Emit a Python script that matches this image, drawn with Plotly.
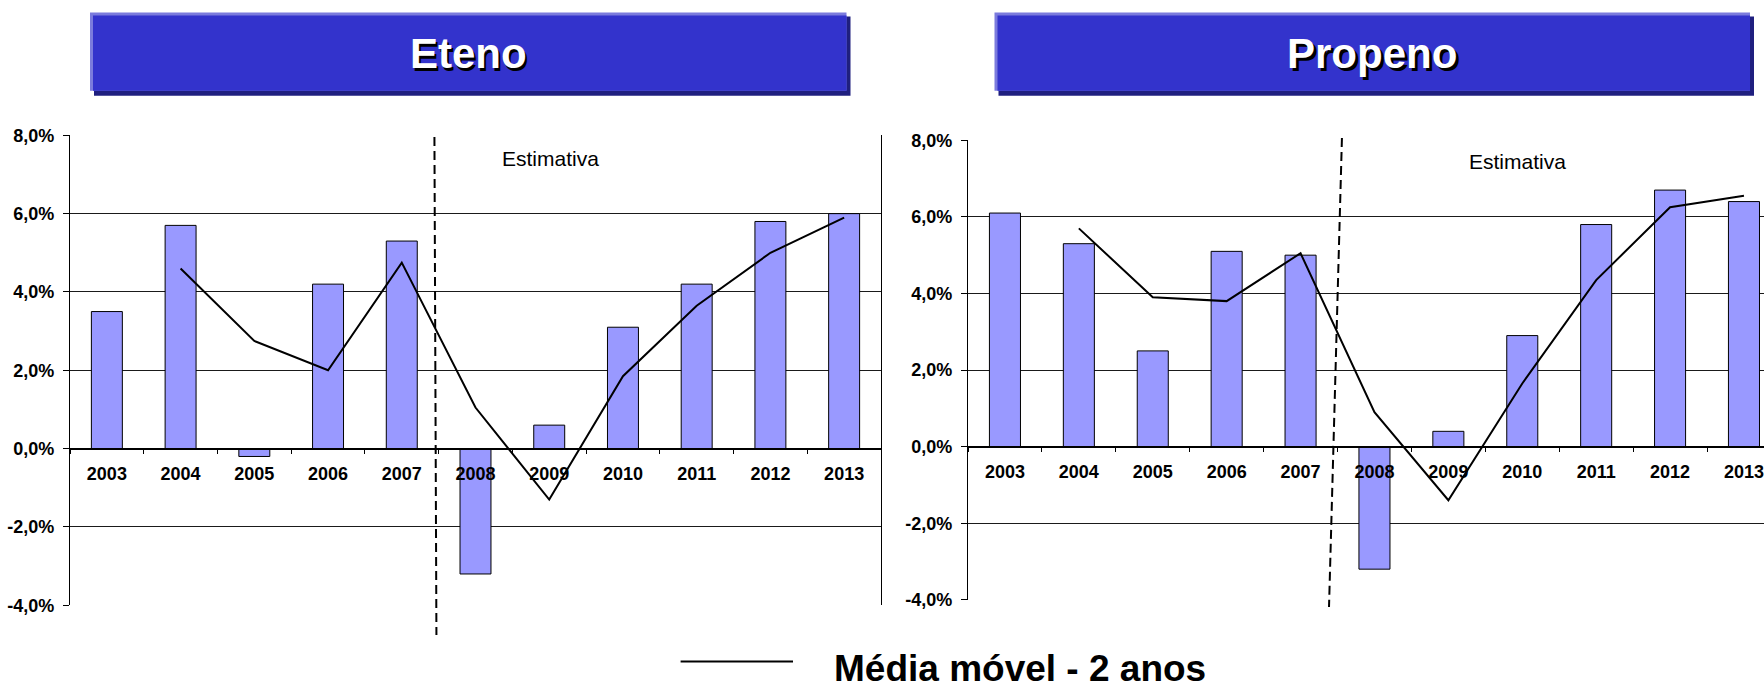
import plotly.graph_objects as go

# ---------------- data ----------------
years = ["2003", "2004", "2005", "2006", "2007", "2008", "2009", "2010", "2011", "2012", "2013"]
eteno_growth = [3.5, 5.7, -0.2, 4.2, 5.3, -3.2, 0.6, 3.1, 4.2, 5.8, 6.0]
eteno_ma2 = [None, 4.6, 2.75, 2.0, 4.75, 1.05, -1.3, 1.85, 3.65, 5.0, 5.9]
propeno_growth = [6.1, 5.3, 2.5, 5.1, 5.0, -3.2, 0.4, 2.9, 5.8, 6.7, 6.4]
propeno_ma2 = [None, 5.7, 3.9, 3.8, 5.05, 0.9, -1.4, 1.65, 4.35, 6.25, 6.55]
y_tickvals = [-4, -2, 0, 2, 4, 6, 8]
y_ticktext = ["-4,0%", "-2,0%", "0,0%", "2,0%", "4,0%", "6,0%", "8,0%"]
titles = ["Eteno", "Propeno"]
estimate_label = "Estimativa"
legend_label = "Média móvel - 2 anos"

# ---------------- style ----------------
W, H = 1764, 686
FONT = "Arial, Liberation Sans, sans-serif"
BAR = "#9999FF"
YMIN, YMAX = -4, 8


def px(x):
    return x / W


def py(y):
    return 1 - y / H


panels = [
    dict(dom_x=[px(70), px(881)], dom_y=[py(605.3), py(135.3)], xr=[-0.5, 10.5],
         mirror=True, growth=eteno_growth, ma=eteno_ma2,
         dash=((4.443, py(137)), (4.47, py(635))), est=(6.02, 7.4),
         box=(90, 12.5, 846.5, 90.7)),
    dict(dom_x=[px(968), 1.0], dom_y=[py(599.8), py(140.3)], xr=[-0.5, 10.271],
         mirror=False, growth=propeno_growth, ma=propeno_ma2,
         dash=((4.56, py(138)), (4.385, py(607))), est=(6.94, 7.45),
         box=(994.5, 12.5, 1750, 90.7)),
]

fig = go.Figure()
shapes = []
annotations = []

for i, p in enumerate(panels):
    n = "" if i == 0 else str(i + 1)
    xa, ya = "x" + n, "y" + n
    fig.add_trace(go.Bar(x=years, y=p["growth"], xaxis=xa, yaxis=ya,
                         marker=dict(color=BAR, line=dict(color="#000000", width=1)),
                         width=0.42, showlegend=False))
    fig.add_trace(go.Scatter(x=years, y=p["ma"], xaxis=xa, yaxis=ya, mode="lines",
                             line=dict(color="#000000", width=2), connectgaps=False,
                             showlegend=False))
    d0, d1 = p["dom_y"]
    zero_pos = d0 + (0 - YMIN) / (YMAX - YMIN) * (d1 - d0)
    fig.update_layout(**{
        "xaxis" + n: dict(domain=p["dom_x"], type="category", range=p["xr"],
                          anchor="free", position=zero_pos, showline=True,
                          linecolor="#000000", linewidth=1.5, ticks="outside",
                          tickson="boundaries", ticklen=5, tickcolor="#000000",
                          tickfont=dict(family=FONT, size=18, color="#000000", weight="bold"),
                          ticklabelstandoff=9, showgrid=False, zeroline=False,
                          fixedrange=True, automargin=False),
        "yaxis" + n: dict(domain=p["dom_y"], range=[YMIN, YMAX], anchor=xa,
                          tickvals=y_tickvals, ticktext=y_ticktext, showline=True,
                          mirror=p["mirror"], linecolor="#000000", linewidth=1.2,
                          ticks="outside", ticklen=6, tickcolor="#000000",
                          tickfont=dict(family=FONT, size=18, color="#000000", weight="bold"),
                          ticklabelstandoff=5, showgrid=True, gridcolor="#1a1a1a",
                          gridwidth=1, zeroline=False, fixedrange=True, automargin=False),
    })
    # dashed divider between history and estimate
    (xa0, ya0), (xa1, ya1) = p["dash"]
    shapes.append(dict(type="line", xref=xa, yref="paper", x0=xa0, y0=ya0, x1=xa1, y1=ya1,
                       line=dict(color="#000000", width=2, dash="9px,5px")))
    ex, ey = p["est"]
    annotations.append(dict(text=estimate_label, x=ex, y=ey, xref=xa, yref=ya,
                            showarrow=False, xanchor="center", yanchor="middle",
                            font=dict(family=FONT, size=21, color="#000000")))
    # title box
    bx0, by0, bx1, by1 = p["box"]
    shapes.append(dict(type="rect", xref="paper", yref="paper", x0=px(bx0 + 4), x1=px(bx1 + 4),
                       y0=py(by1 + 5), y1=py(by0 + 4), fillcolor="#1f1f7f", line=dict(width=0)))
    shapes.append(dict(type="rect", xref="paper", yref="paper", x0=px(bx0), x1=px(bx1),
                       y0=py(by1), y1=py(by0), fillcolor="#7b7bdd", line=dict(width=0)))
    shapes.append(dict(type="rect", xref="paper", yref="paper", x0=px(bx0 + 3), x1=px(bx1),
                       y0=py(by1), y1=py(by0 + 3), fillcolor="#3333CC", line=dict(width=0)))
    cx = px((bx0 + bx1) / 2)
    cy = py((by0 + by1) / 2 + 2)
    annotations.append(dict(text=titles[i], x=cx, y=cy, xref="paper", yref="paper",
                            showarrow=False, xshift=2.5, yshift=-2.5,
                            xanchor="center", yanchor="middle",
                            font=dict(family=FONT, size=42, color="#000000", weight="bold")))
    annotations.append(dict(text=titles[i], x=cx, y=cy, xref="paper", yref="paper",
                            showarrow=False, xanchor="center", yanchor="middle",
                            font=dict(family=FONT, size=42, color="#FFFFFF", weight="bold")))

# legend (drawn manually to match long line sample)
shapes.append(dict(type="line", xref="paper", yref="paper", x0=px(680.6), x1=px(793),
                   y0=py(661.5), y1=py(661.5), line=dict(color="#000000", width=2)))
annotations.append(dict(text=legend_label, x=px(831.5), y=py(668), xref="paper", yref="paper",
                        xanchor="left", yanchor="middle", showarrow=False,
                        font=dict(family=FONT, size=37, color="#000000", weight="bold")))

fig.update_layout(width=W, height=H, margin=dict(l=0, r=0, t=0, b=0),
                  paper_bgcolor="#FFFFFF", plot_bgcolor="#FFFFFF",
                  bargap=0.58, showlegend=False, shapes=shapes, annotations=annotations)

fig.write_html("out.html", config={"displayModeBar": False},
               post_script="document.body.style.margin='0';document.body.style.overflow='hidden';")
